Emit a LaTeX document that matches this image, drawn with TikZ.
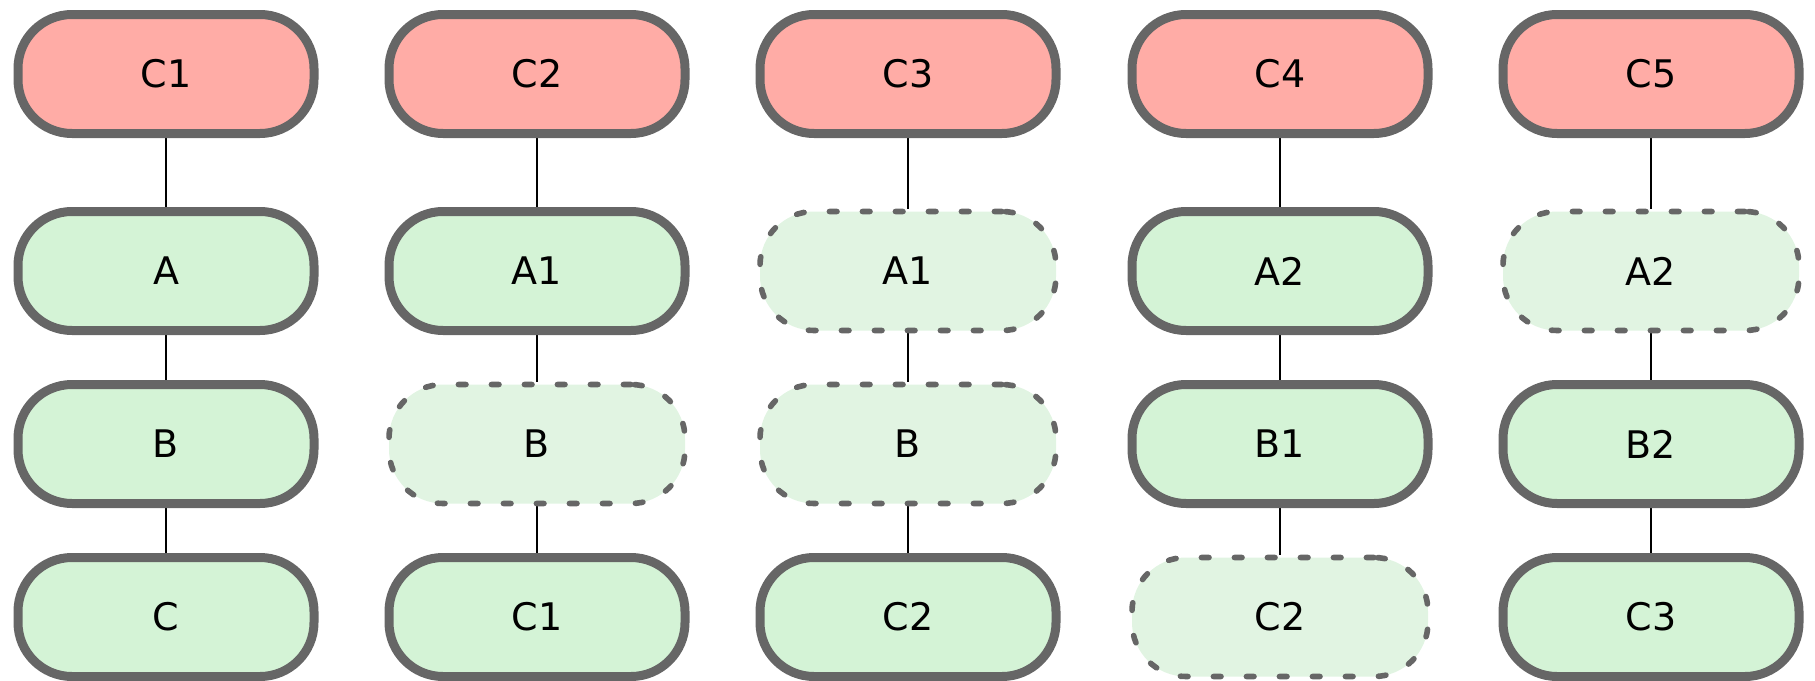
\documentclass[tikz,border=0pt]{standalone}
\usepackage{fontspec}
\setmainfont{DejaVu Sans}
\usetikzlibrary{backgrounds}

\definecolor{rimgray}{HTML}{666666}
\definecolor{headred}{HTML}{FFACA6}
\definecolor{keptgreen}{HTML}{D4F3D6}
\definecolor{ghostgreen}{HTML}{E1F4E2}

\begin{document}
\begin{tikzpicture}[x=0.5pt, y=-0.5pt,
  commit/.style={draw=rimgray, line width=4.5pt, rounded corners=27pt,
    minimum width=148pt, minimum height=59.5pt, inner sep=0pt,
    font=\fontsize{19}{22}\selectfont},
  head/.style={commit, fill=headred},
  kept/.style={commit, fill=keptgreen},
  ghost/.style={commit, fill=ghostgreen, line width=2.8pt,
    dash pattern=on 3.8pt off 12.7pt, line cap=round},
  link/.style={black, line width=1.2pt}]

  \useasboundingbox (0,0) rectangle (1815,680);

  % Column 1
  \node[head] (top1) at (166,74)  {C1};
  \node[kept] (mid1) at (166,271) {A};
  \node[kept] (low1) at (166,444) {B};
  \node[kept] (bot1) at (166,617) {C};

  % Column 2
  \node[head]  (top2) at (537,74)  {C2};
  \node[kept]  (mid2) at (537,271) {A1};
  \node[ghost] (low2) at (537,444) {B};
  \node[kept]  (bot2) at (537,617) {C1};

  % Column 3
  \node[head]  (top3) at (908,74)  {C3};
  \node[ghost] (mid3) at (908,271) {A1};
  \node[ghost] (low3) at (908,444) {B};
  \node[kept]  (bot3) at (908,617) {C2};

  % Column 4
  \node[head]  (top4) at (1280,74)  {C4};
  \node[kept]  (mid4) at (1280,271) {A2};
  \node[kept]  (low4) at (1280,444) {B1};
  \node[ghost] (bot4) at (1280,617) {C2};

  % Column 5
  \node[head]  (top5) at (1651,74)  {C5};
  \node[ghost] (mid5) at (1651,271) {A2};
  \node[kept]  (low5) at (1651,444) {B2};
  \node[kept]  (bot5) at (1651,617) {C3};

  % Draw links behind the boxes
  \begin{scope}[on background layer]
    \foreach \c in {1,...,5} {
      \draw[link] (top\c) -- (mid\c);
      \draw[link] (mid\c) -- (low\c);
      \draw[link] (low\c) -- (bot\c);
    }
  \end{scope}

\end{tikzpicture}
\end{document}
